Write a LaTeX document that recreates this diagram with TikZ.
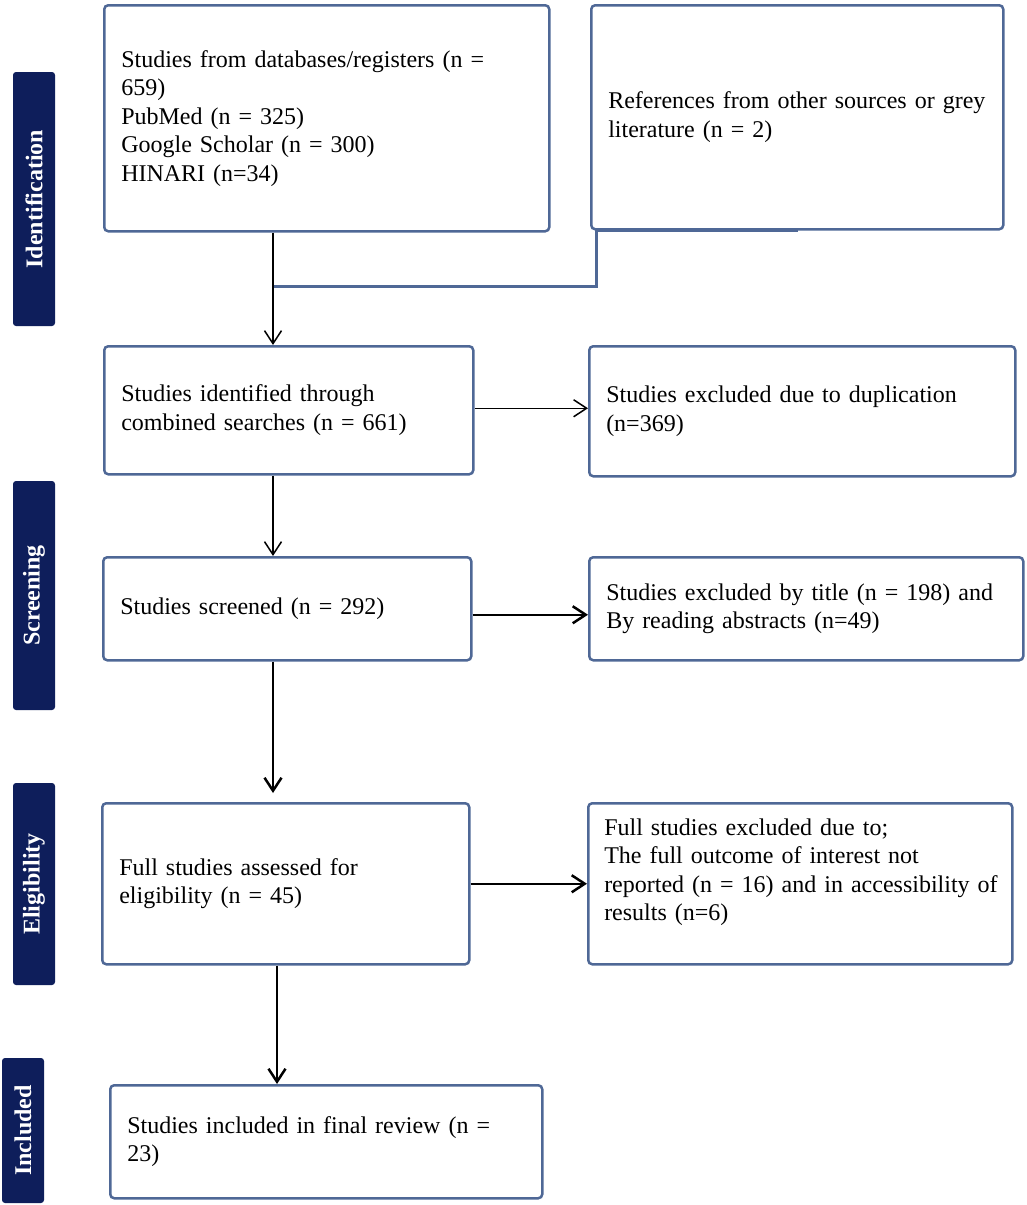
\documentclass[tikz,border=0pt]{standalone}
\usepackage{fontspec}
\setmainfont{Liberation Serif}
\usetikzlibrary{arrows.meta}

\definecolor{mNavy}{HTML}{0E1E5B}
\definecolor{mSteel}{HTML}{4F6896}

\begin{document}
\begin{tikzpicture}[x=1pt, y=-1pt,
  box/.style={draw=mSteel, line width=2.5pt, rounded corners=4pt, anchor=north west,
    align=left, inner xsep=17pt, font=\fontsize{24}{28.5}\selectfont},
  phase/.style={fill=mNavy, rounded corners=3pt, rotate=90, text=white,
    font=\fontsize{24}{28}\selectfont\bfseries, minimum height=42pt, inner sep=0pt},
  arr/.style={-{Straight Barb[length=13pt,width=17pt]}, line width=1.5pt},
  thickarr/.style={arr, line width=2.5pt},
  link/.style={draw=mSteel, line width=3pt}]
\useasboundingbox (0,0) rectangle (1026,1205);

% phase bars
\node[phase, minimum width=254pt] (identification) at (34,199) {Identification};
\node[phase, minimum width=229pt] (screening) at (34,595.5) {Screening};
\node[phase, minimum width=202pt] (eligibility) at (34,884) {Eligibility};
\node[phase, minimum width=145pt] (included) at (23,1130.5) {Included};

% boxes
\node[box, text width=411pt, minimum height=226pt] (databases) at (103,4)
  {Studies from databases/registers (n =\\659)\\PubMed (n = 325)\\Google Scholar (n = 300)\\HINARI (n=34)};
\node[box, text width=378pt, minimum height=224pt] (other) at (590,4)
  {References from other sources or grey\\literature (n = 2)};
\node[box, text width=335pt, minimum height=128pt] (combined) at (103,345)
  {Studies identified through\\combined searches (n = 661)};
\node[box, text width=392pt, minimum height=130pt] (duplicates) at (588,345)
  {Studies excluded due to duplication\\(n=369)};
\node[box, text width=334pt, minimum height=103pt] (screened) at (102,556)
  {Studies screened (n = 292)};
\node[box, text width=400pt, minimum height=103pt] (bytitle) at (588,556)
  {Studies excluded by title (n = 198) and\\By reading abstracts (n=49)};
\node[box, text width=333pt, minimum height=161pt] (fulltext) at (101,802)
  {Full studies assessed for\\eligibility (n = 45)};
\node[box, minimum height=161pt, inner xsep=16pt, text width=392pt] (fullexcl) at (587,802)
  {Full studies excluded due to;\\The full outcome of interest not\\\mbox{reported (n = 16) and in accessibility of}\\results (n=6)\\\mbox{}};
\node[box, text width=398pt, minimum height=113pt] (final) at (109,1084)
  {Studies included in final review (n =\\23)};

% connectors
\coordinate (join) at (273,286);
\coordinate (lower) at (277,0);
\draw[link] ([xshift=208pt]other.south west) -- ([xshift=6pt]other.south west) |- (join);
\draw[arr] ([yshift=2pt]combined.east) -- ([yshift=2pt]combined.east -| duplicates.west);
\draw[arr] (databases.south -| join) -- (combined.north -| join);
\draw[arr] (combined.south -| join) -- (screened.north -| join);
\draw[thickarr] ([yshift=-6pt]screened.east) -- ([yshift=-6pt]screened.east -| bytitle.west);
\draw[thickarr, shorten >=9pt] (screened.south -| join) -- (fulltext.north -| join);
\draw[thickarr] (fulltext.east) -- (fulltext.east -| fullexcl.west);
\draw[thickarr] (fulltext.south -| lower) -- (final.north -| lower);

\end{tikzpicture}
\end{document}
